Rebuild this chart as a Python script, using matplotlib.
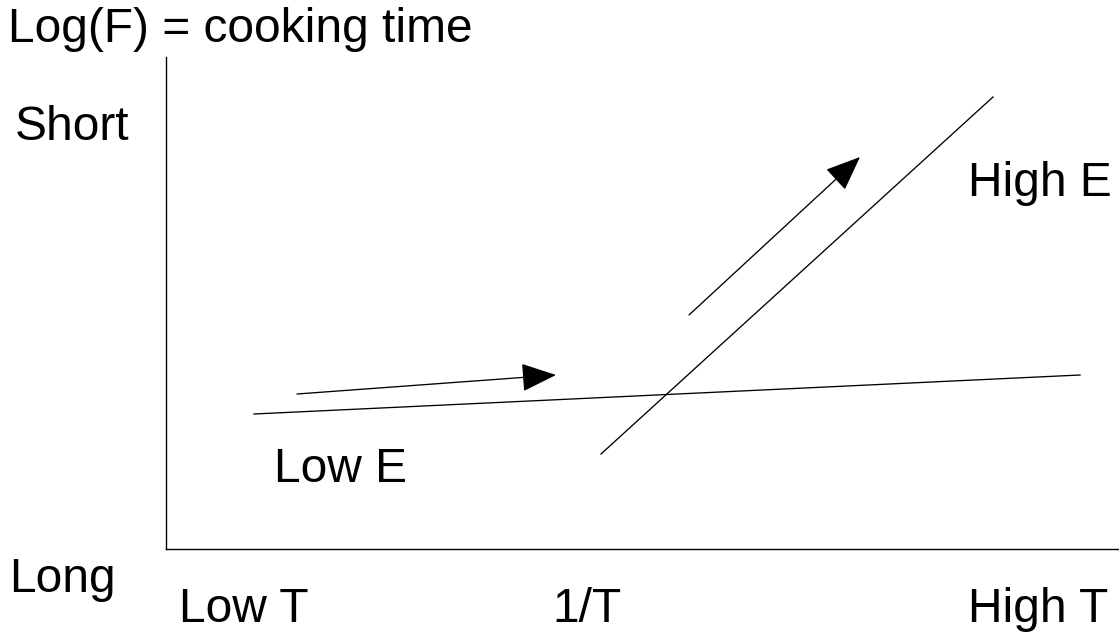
import matplotlib
matplotlib.use("Agg")
import matplotlib.pyplot as plt

plt.rcParams['font.family'] = ['Liberation Sans', 'DejaVu Sans']

# Diagram data (axis units: x = 1/T scale, y = log(F) scale)
low_e_x = [88, 914]
low_e_y = [135, 174]
high_e_x = [435, 827]
high_e_y = [95, 452]
arrow_low_start = (131, 155)
arrow_low_end = (390, 174)
arrow_high_start = (523, 234)
arrow_high_end = (694, 392)

W, H = 1119, 636
fig = plt.figure(figsize=(W / 100, H / 100), dpi=100)
ax = fig.add_axes([166 / W, (H - 549) / H, 953 / W, 492 / H])
ax.set_xlim(0, 953)
ax.set_ylim(0, 492)
for s in ['top', 'right']:
    ax.spines[s].set_visible(False)
for s in ['left', 'bottom']:
    ax.spines[s].set_linewidth(1.0)
    ax.spines[s].set_color('black')
ax.set_xticks([])
ax.set_yticks([])

ax.plot(low_e_x, low_e_y, color='black', lw=0.95)
ax.plot(high_e_x, high_e_y, color='black', lw=0.95)
for st, en in [(arrow_low_start, arrow_low_end), (arrow_high_start, arrow_high_end)]:
    ax.annotate('', xy=en, xytext=st,
                arrowprops=dict(arrowstyle='-|>,head_length=1.1,head_width=0.45',
                                mutation_scale=20, color='black', lw=0.95,
                                shrinkA=0, shrinkB=0))

fs = 34.5
def t(px, py, s, ha='left'):
    fig.text(px / W, 1 - py / H, s, fontsize=fs, ha=ha, va='center')

t(8, 30, 'Log(F) = cooking time')
t(15, 127, 'Short')
t(9, 580, 'Long')
t(179, 609, 'Low T')
t(552, 609, '1/T')
t(968, 609, 'High T')
t(968, 183, 'High E')
t(274, 470, 'Low E')

fig.savefig('out.png', dpi=100)
